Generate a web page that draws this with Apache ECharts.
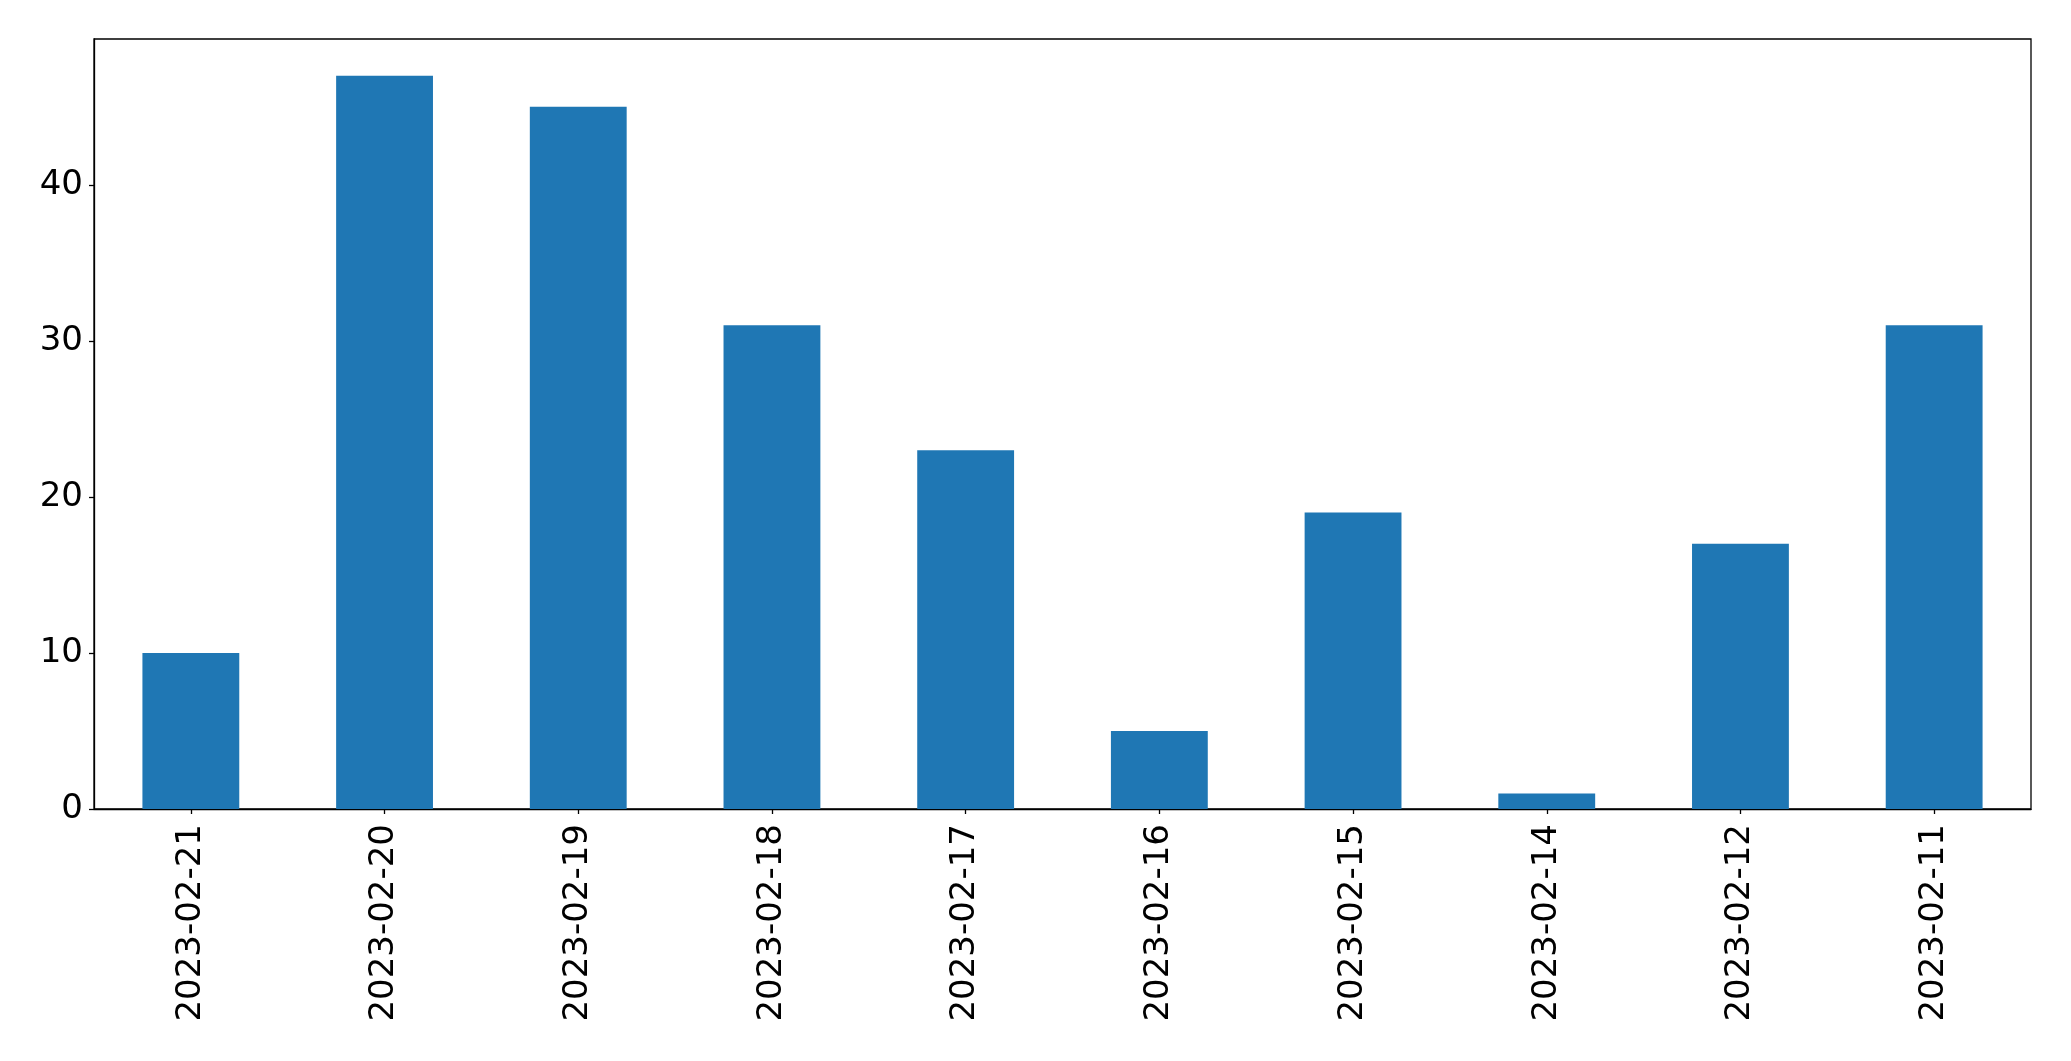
<!DOCTYPE html>
<html>
<head>
<meta charset="utf-8">
<script src="https://cdn.jsdelivr.net/npm/echarts@6/dist/echarts.min.js"></script>
<style>
html,body{margin:0;padding:0;background:#fff;}
#chart{width:2071px;height:1061px;}
</style>
</head>
<body>
<div id="chart"></div>
<script>
const categories = ['2023-02-21','2023-02-20','2023-02-19','2023-02-18','2023-02-17','2023-02-16','2023-02-15','2023-02-14','2023-02-12','2023-02-11'];
const values = [10, 47, 45, 31, 23, 5, 19, 1, 17, 31];
const yTicks = [0, 10, 20, 30, 40];

const chart = echarts.init(document.getElementById('chart'));
const font = 'DejaVu Sans';
chart.setOption({
  animation: false,
  grid: {left: 94, right: 40, top: 39, bottom: 252, show: true, borderColor: '#000', borderWidth: 1.3, backgroundColor: 'transparent'},
  xAxis: {
    type: 'category',
    data: categories,
    axisLine: {show: true, lineStyle: {color: '#000', width: 1.3}},
    axisTick: {show: true, alignWithLabel: true, length: 5, lineStyle: {color: '#000', width: 1.3}},
    axisLabel: {rotate: 90, margin: 15, fontSize: 34, fontFamily: font, color: '#000'},
    splitLine: {show: false}
  },
  yAxis: {
    type: 'value',
    min: 0,
    max: 49.35,
    interval: 10,
    axisLine: {show: true, lineStyle: {color: '#000', width: 1.3}},
    axisTick: {show: true, length: 5, lineStyle: {color: '#000', width: 1.3}, customValues: yTicks},
    axisLabel: {margin: 11, fontSize: 34, fontFamily: font, color: '#000', customValues: yTicks},
    splitLine: {show: false}
  },
  series: [{
    type: 'bar',
    data: values,
    barCategoryGap: '50%',
    itemStyle: {color: '#1f77b4'}
  }]
});
</script>
</body>
</html>
